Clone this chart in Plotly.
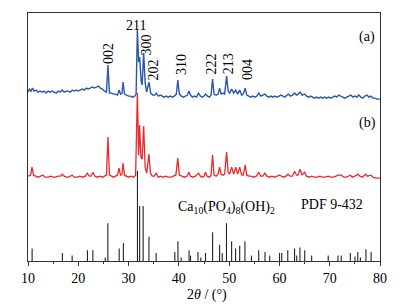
import plotly.graph_objects as go

# ---- data ----
# (a) blue pattern: 2theta and intensity above its own baseline
a_x = [10.0, 10.3, 10.6, 10.9, 11.2, 11.6, 12.0, 12.4, 12.8, 13.2, 13.6, 14.0, 14.4, 14.8, 15.2, 15.6,
       16.0, 16.4, 16.8, 17.2, 17.6, 18.0, 18.4, 18.8, 19.2, 19.6, 20.0, 20.4, 20.8, 21.2, 21.6, 22.0,
       22.4, 22.8, 23.2, 23.6, 24.0, 24.4, 24.8, 25.2, 25.6, 25.9, 26.2, 26.6, 27.0, 27.4, 27.8, 28.1,
       28.4, 28.7, 28.9, 29.2, 29.6, 30.0, 30.4, 30.8, 31.2, 31.5, 31.75, 32.0, 32.2, 32.5, 32.7, 33.0,
       33.3, 33.6, 34.05, 34.4, 34.8, 35.2, 35.5, 35.9, 36.3, 36.7, 37.1, 37.5, 37.9, 38.3, 38.7, 39.1,
       39.5, 39.8, 40.1, 40.5, 40.9, 41.3, 41.7, 42.0, 42.3, 42.7, 43.1, 43.5, 43.9, 44.3, 44.7, 45.0,
       45.3, 45.7, 46.1, 46.4, 46.7, 47.0, 47.4, 47.8, 48.1, 48.4, 48.8, 49.1, 49.5, 49.8, 50.1, 50.5,
       50.9, 51.3, 51.7, 52.1, 52.5, 52.8, 53.2, 53.5, 53.9, 54.3, 54.7, 55.1, 55.5, 55.9, 56.3, 56.7,
       57.1, 57.5, 57.9, 58.3, 58.7, 59.1, 59.5, 59.9, 60.3, 60.7, 61.1, 61.5, 61.8, 62.2, 62.6, 63.0,
       63.4, 63.7, 64.1, 64.5, 65.0, 65.4, 65.8, 66.2, 66.6, 67.0, 67.4, 67.8, 68.2, 68.6, 69.0, 69.4,
       69.8, 70.2, 70.6, 71.0, 71.4, 71.8, 72.2, 72.6, 73.0, 73.4, 73.8, 74.2, 74.6, 75.0, 75.4, 75.8,
       76.2, 76.6, 77.0, 77.4, 77.8, 78.2, 78.6, 79.0, 79.4, 80.0]
a_y = [5, 8, 6, 9, 6, 7, 5, 6, 5, 6, 4, 6, 5, 6, 5, 4,
       6, 5, 7, 5, 6, 6, 5, 7, 6, 7, 6, 7, 8, 7, 9, 8,
       9, 10, 9, 10, 11, 9, 8, 6, 5, 32, 4, 4, 3, 3, 2, 7,
       3, 4, 15, 3, 2, 1, 1, 0, 1, 3, 67, 35, 40, 16, 12, 44,
       14, 5, 15, 4, 2, 2, 4, 1, 2, 1, 0, 1, 0, 1, 0, 1,
       3, 17, 3, 1, 0, 1, 2, 6, 2, 0, 1, 0, 4, 1, 0, 1,
       3, 1, 0, 2, 18, 3, 2, 3, 9, 3, 4, 3, 21, 6, 4, 8,
       4, 7, 3, 7, 2, 3, 9, 2, 1, 0, 1, 0, 1, 4, 1, 2,
       3, 1, 0, 1, 0, 1, 0, 1, 2, 1, 0, 2, 3, 1, 2, 4,
       2, 3, 5, 2, 3, 1, 0, 1, 0, -1, 0, -1, 0, -1, 0, -1,
       0, -1, 0, 1, 0, 2, 1, 0, -1, 0, 1, 2, 0, 1, 0, 2,
       0, -1, 1, 2, 0, 1, -1, -1, -2, -2]

# (b) red pattern
b_x = [10.0, 10.5, 10.8, 11.1, 11.5, 12.0, 12.5, 13.0, 13.4, 14.0, 14.5, 15.0, 15.5, 16.0, 16.5, 16.8,
       17.2, 17.6, 18.0, 18.5, 18.8, 19.2, 19.8, 20.3, 20.8, 21.4, 21.8, 22.2, 22.5, 22.9, 23.3, 23.8,
       24.3, 24.8, 25.3, 25.6, 25.9, 26.2, 26.6, 27.0, 27.4, 27.8, 28.1, 28.4, 28.7, 28.9, 29.2, 29.6,
       30.0, 30.5, 31.0, 31.4, 31.75, 32.0, 32.2, 32.45, 32.7, 33.0, 33.3, 33.6, 34.05, 34.35, 34.7, 35.1,
       35.5, 35.9, 36.4, 36.9, 37.4, 37.9, 38.4, 38.9, 39.4, 39.8, 40.1, 40.6, 41.1, 41.6, 42.0, 42.3,
       42.8, 43.3, 43.9, 44.3, 44.7, 45.0, 45.3, 45.6, 46.1, 46.4, 46.7, 47.0, 47.4, 47.8, 48.1, 48.4,
       48.8, 49.1, 49.5, 49.8, 50.1, 50.5, 50.9, 51.3, 51.7, 52.1, 52.5, 52.8, 53.2, 53.5, 53.9, 54.4,
       54.8, 55.4, 55.9, 56.3, 56.7, 57.1, 57.5, 58.0, 58.5, 59.0, 59.5, 60.0, 60.4, 60.9, 61.3, 61.7,
       62.1, 62.6, 63.0, 63.4, 63.7, 64.1, 64.5, 65.0, 65.4, 65.9, 66.4, 66.9, 67.5, 68.0, 68.5, 69.0,
       69.7, 70.2, 70.8, 71.3, 71.7, 72.3, 72.8, 73.3, 73.8, 74.1, 74.5, 75.0, 75.6, 76.0, 76.5, 77.1,
       77.5, 78.2, 78.6, 79.2, 80.0]
b_y = [1, 2, 10, 2, 1, 0, 1, 2, 0, 0, 1, 0, 0, 1, 1, 3,
       1, 0, 0, 1, 2, 0, 0, 1, 0, 1, 4, 1, 1, 5, 1, 0,
       1, 0, 1, 2, 40, 2, 1, 0, 1, 2, 9, 2, 3, 14, 2, 1,
       0, 1, 0, 2, 84, 22, 52, 20, 18, 51, 10, 4, 23, 4, 1, 1,
       4, 0, 1, 0, 1, 0, 0, 1, 2, 19, 2, 1, 0, 1, 5, 1,
       0, 1, 4, 1, 0, 1, 5, 1, 0, 2, 22, 2, 1, 3, 10, 3,
       2, 3, 25, 5, 3, 10, 3, 10, 3, 10, 2, 2, 12, 2, 1, 1,
       0, 1, 5, 1, 1, 4, 1, 0, 1, 0, 1, 2, 1, 0, 1, 3,
       1, 1, 6, 2, 2, 8, 2, 5, 1, 0, 1, 0, 0, 1, 0, 0,
       1, 0, 0, 1, 2, 2, 0, 0, 1, 2, 0, 1, 3, 1, 0, 3,
       1, 2, 0, -1, -1]

# PDF 9-432 reference lines (relative intensity, %)
pdf_pos = [10.82, 16.84, 18.78, 21.82, 22.90, 25.35, 25.88, 28.13, 28.97, 31.77, 32.20, 32.90, 34.05,
           35.48, 39.20, 39.82, 40.45, 42.03, 42.32, 43.80, 44.37, 45.30, 46.71, 48.10, 48.62, 49.47,
           50.49, 51.28, 52.10, 53.14, 54.44, 55.88, 57.13, 58.07, 60.02, 60.46, 61.66, 63.01, 63.44,
           64.08, 65.03, 66.41, 69.70, 71.65, 72.29, 74.10, 75.03, 75.58, 76.10, 77.20, 78.23]
pdf_int = [14, 9, 6, 12, 12, 4, 42, 14, 20, 100, 61, 61, 27,
           9, 10, 22, 4, 12, 6, 10, 4, 9, 32, 18, 9, 42,
           22, 14, 17, 22, 6, 12, 10, 6, 9, 9, 12, 14, 6,
           15, 12, 6, 6, 6, 6, 9, 5, 10, 4, 13, 10]

hkl_labels = ["002", "300", "202", "310", "222", "213", "004"]
hkl_pos = [25.9, 33.57, 35.0, 40.4, 46.5, 49.8, 53.8]
hkl_ypos = [207.7, 215.7, 191.0, 196.7, 196.7, 196.7, 191.0]

x_ticks = [10, 20, 30, 40, 50, 60, 70, 80]

# ---- layout constants ----
OFF_A = 163.7
OFF_B = 83.7
STICK_SCALE = 0.9
Y_TOP = 247.7
SERIF = "Liberation Serif, Times New Roman, serif"
FS = 14
# the page body adds an 8px margin, so the figure is drawn 8px smaller
FIG_W, FIG_H = 400, 298

fig = go.Figure()

sx, sy = [], []
for p, h in zip(pdf_pos, pdf_int):
    sx += [p, p, None]
    sy += [0, h * STICK_SCALE, None]
fig.add_trace(go.Scatter(x=sx, y=sy, mode="lines", line=dict(color="#222222", width=1.1),
                         hoverinfo="skip", showlegend=False))

fig.add_trace(go.Scatter(x=b_x, y=[v + OFF_B for v in b_y], mode="lines",
                         line=dict(color="rgb(236,40,44)", width=1.3), showlegend=False))
fig.add_trace(go.Scatter(x=a_x, y=[v + OFF_A for v in a_y], mode="lines",
                         line=dict(color="rgb(40,88,176)", width=1.4), showlegend=False))

ann = []
for t, xp, yp in zip(hkl_labels, hkl_pos, hkl_ypos):
    ann.append(dict(x=xp, y=yp, text=t, textangle=-90, showarrow=False,
                    font=dict(family=SERIF, size=FS, color="black")))
ann.append(dict(x=31.4, y=235.7, text="211", showarrow=False,
                font=dict(family=SERIF, size=FS, color="black")))
ann.append(dict(x=77.5, y=223.7, text="(a)", showarrow=False,
                font=dict(family=SERIF, size=FS, color="black")))
ann.append(dict(x=77.5, y=137.7, text="(b)", showarrow=False,
                font=dict(family=SERIF, size=FS, color="black")))
ann.append(dict(x=49.5, y=53.5, text="Ca<sub>10</sub>(PO<sub>4</sub>)<sub>8</sub>(OH)<sub>2</sub>",
                showarrow=False, font=dict(family=SERIF, size=FS, color="black")))
ann.append(dict(x=70.55, y=56.5, text="PDF 9-432", showarrow=False,
                font=dict(family=SERIF, size=FS, color="black")))
ann.append(dict(x=0.508, y=-0.138, xref="paper", yref="paper", yanchor="middle",
                text="2<i>θ</i> / (°)", showarrow=False,
                font=dict(family=SERIF, size=FS, color="black")))

fig.update_layout(
    width=FIG_W, height=FIG_H,
    margin=dict(l=20, r=28, t=5, b=45),
    paper_bgcolor="white", plot_bgcolor="white",
    showlegend=False,
    annotations=ann,
    xaxis=dict(range=[10, 80], tickvals=x_ticks, ticks="outside", ticklen=4, tickwidth=1,
               tickcolor="#333333", showline=True, linecolor="#333333", linewidth=1,
               mirror=True, showgrid=False, zeroline=False,
               tickfont=dict(family=SERIF, size=FS, color="black"),
               minor=dict(dtick=5, tick0=10, ticks="outside", ticklen=2, tickcolor="#333333")),
    yaxis=dict(range=[0, Y_TOP], showticklabels=False, ticks="", showline=True,
               linecolor="#333333", linewidth=1, mirror=True, showgrid=False, zeroline=False),
)

fig.write_html("out.html")
